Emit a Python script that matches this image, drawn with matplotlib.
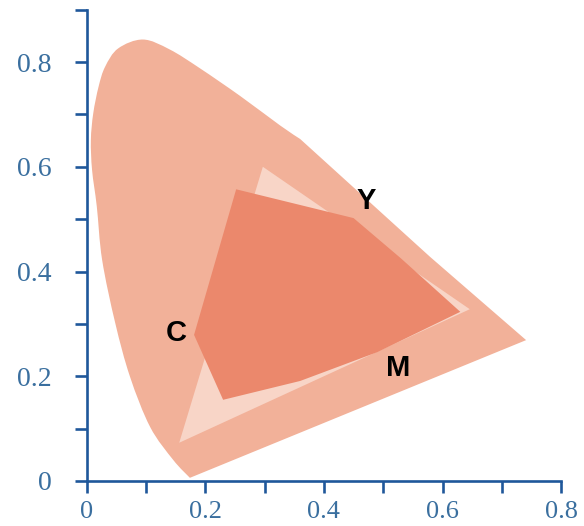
import matplotlib
matplotlib.use("Agg")
import matplotlib.pyplot as plt
from matplotlib.patches import Polygon, PathPatch
from matplotlib.path import Path
from matplotlib.ticker import MultipleLocator, FixedFormatter, FixedLocator

# Chromaticity outline (x, y), traced counter-clockwise from the violet end.
# The first points form the curved part; the last two close it with straight edges.
locus_x = [0.174, 0.146, 0.107, 0.073, 0.048, 0.026, 0.017, 0.009, 0.007,
           0.011, 0.020, 0.031, 0.053, 0.095, 0.140, 0.191, 0.259, 0.326,
           0.360, 0.579, 0.741]
locus_y = [0.006, 0.040, 0.103, 0.199, 0.302, 0.422, 0.524, 0.594, 0.651,
           0.702, 0.753, 0.791, 0.826, 0.843, 0.824, 0.788, 0.735, 0.679,
           0.653, 0.428, 0.269]
n_curved = 19

# Wider (lighter) gamut triangle
wide_x = [0.297, 0.156, 0.646]
wide_y = [0.600, 0.073, 0.328]

# CMY print gamut polygon
cmy_x = [0.252, 0.181, 0.230, 0.360, 0.490, 0.630, 0.530, 0.450]
cmy_y = [0.557, 0.279, 0.155, 0.191, 0.246, 0.323, 0.425, 0.502]

# Corner labels
label_text = ["C", "Y", "M"]
label_x = [0.151, 0.471, 0.525]
label_y = [0.282, 0.534, 0.216]

x_ticks = [0, 0.2, 0.4, 0.6, 0.8]
x_tick_labels = ["0", "0.2", "0.4", "0.6", "0.8"]
y_ticks = [0, 0.2, 0.4, 0.6, 0.8]
y_tick_labels = ["0", "0.2", "0.4", "0.6", "0.8"]

axis_color = "#1f579a"
label_color = "#3a6f9f"


def smooth_outline(xs, ys, n_smooth):
    """Closed path: Catmull-Rom Bezier through the first n_smooth points,
    straight segments for the rest."""
    pts = list(zip(xs, ys))
    verts = [pts[0]]
    codes = [Path.MOVETO]
    for i in range(n_smooth - 1):
        p0 = pts[max(i - 1, 0)]
        p1 = pts[i]
        p2 = pts[i + 1]
        p3 = pts[min(i + 2, n_smooth - 1)]
        c1 = (p1[0] + (p2[0] - p0[0]) / 6, p1[1] + (p2[1] - p0[1]) / 6)
        c2 = (p2[0] - (p3[0] - p1[0]) / 6, p2[1] - (p3[1] - p1[1]) / 6)
        verts += [c1, c2, p2]
        codes += [Path.CURVE4] * 3
    for p in pts[n_smooth:]:
        verts.append(p)
        codes.append(Path.LINETO)
    verts.append(pts[0])
    codes.append(Path.CLOSEPOLY)
    return Path(verts, codes)


fig = plt.figure(figsize=(5.84, 5.26), dpi=100)
ax = fig.add_axes([0.1485, 0.0856, 0.8123, 0.896])
ax.set_xlim(0, 0.8)
ax.set_ylim(0, 0.9)

ax.add_patch(PathPatch(smooth_outline(locus_x, locus_y, n_curved),
                       facecolor="#f2b199", edgecolor="none"))
ax.add_patch(Polygon(list(zip(wide_x, wide_y)), closed=True,
                     facecolor="#f8d5c7", edgecolor="none"))
ax.add_patch(Polygon(list(zip(cmy_x, cmy_y)), closed=True,
                     facecolor="#eb886c", edgecolor="none"))

for t, x, y in zip(label_text, label_x, label_y):
    ax.text(x, y, t, ha="center", va="center", fontsize=21,
            fontweight="bold", family="Liberation Sans", color="black")

for side in ("top", "right"):
    ax.spines[side].set_visible(False)
for side in ("left", "bottom"):
    ax.spines[side].set_color(axis_color)
    ax.spines[side].set_linewidth(1.9)

ax.xaxis.set_major_locator(FixedLocator(x_ticks))
ax.xaxis.set_major_formatter(FixedFormatter(x_tick_labels))
ax.xaxis.set_minor_locator(MultipleLocator(0.1))
ax.yaxis.set_major_locator(FixedLocator(y_ticks))
ax.yaxis.set_major_formatter(FixedFormatter(y_tick_labels))
ax.yaxis.set_minor_locator(FixedLocator([0.1, 0.3, 0.5, 0.7, 0.9]))

ax.tick_params(axis="both", which="both", direction="out", length=8.3,
               width=1.9, color=axis_color)
ax.tick_params(axis="x", which="major", pad=6, labelsize=19,
               labelcolor=label_color)
ax.tick_params(axis="y", which="major", pad=17, labelsize=20,
               labelcolor=label_color)
for lbl in ax.get_xticklabels() + ax.get_yticklabels():
    lbl.set_family("Liberation Serif")

fig.savefig("out.png", dpi=100)
